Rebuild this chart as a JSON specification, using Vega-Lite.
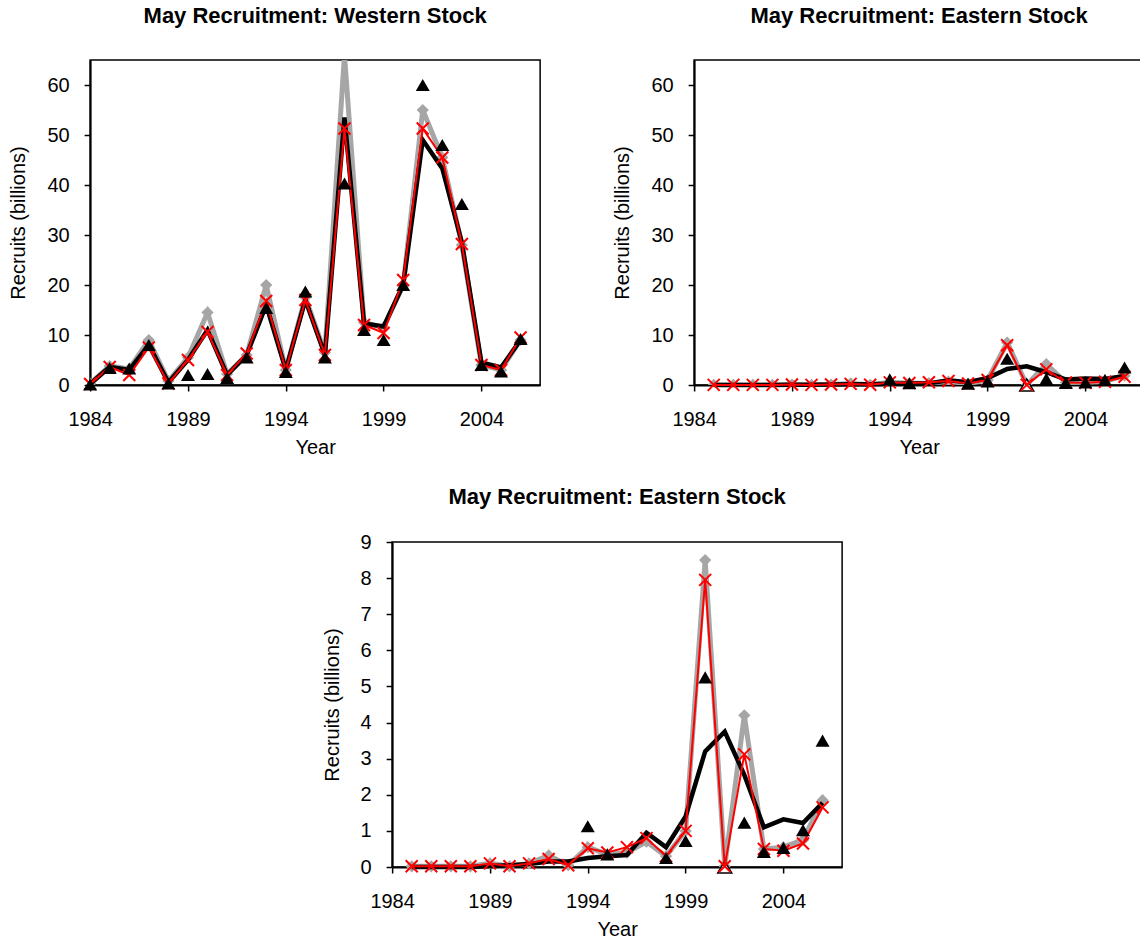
{
  "$schema": "https://vega.github.io/schema/vega-lite/v6.json",
  "padding": {"left": 8, "top": 4, "right": 0, "bottom": 0},
  "background": "white",
  "datasets": {
    "west": [
      {"year": 1984, "model_a": 0.3, "model_b": 0.2, "model_c": 0.2, "observed": 0.1},
      {"year": 1985, "model_a": 3.8, "model_b": 3.6, "model_c": 3.6, "observed": 3.4},
      {"year": 1986, "model_a": 3.2, "model_b": 3.0, "model_c": 2.0, "observed": 3.3},
      {"year": 1987, "model_a": 9.0, "model_b": 8.0, "model_c": 7.5, "observed": 8.0},
      {"year": 1988, "model_a": 0.8, "model_b": 0.5, "model_c": 0.3, "observed": 0.3},
      {"year": 1989, "model_a": 5.5, "model_b": 5.0, "model_c": 5.0, "observed": 2.0},
      {"year": 1990, "model_a": 14.5, "model_b": 11.0, "model_c": 10.6, "observed": 2.2},
      {"year": 1991, "model_a": 2.2, "model_b": 2.0, "model_c": 2.0, "observed": 1.4},
      {"year": 1992, "model_a": 6.0, "model_b": 6.0, "model_c": 6.3, "observed": 5.5},
      {"year": 1993, "model_a": 20.0, "model_b": 16.0, "model_c": 16.8, "observed": 15.4},
      {"year": 1994, "model_a": 3.0, "model_b": 3.0, "model_c": 3.0, "observed": 2.6},
      {"year": 1995, "model_a": 17.5, "model_b": 17.0, "model_c": 17.0, "observed": 18.7},
      {"year": 1996, "model_a": 6.5, "model_b": 6.0, "model_c": 6.0, "observed": 5.5},
      {"year": 1997, "model_a": 66.0, "model_b": 53.5, "model_c": 51.3, "observed": 40.3},
      {"year": 1998, "model_a": 12.5, "model_b": 12.3, "model_c": 12.0, "observed": 11.0},
      {"year": 1999, "model_a": 11.5, "model_b": 11.7, "model_c": 10.4, "observed": 9.0},
      {"year": 2000, "model_a": 20.0, "model_b": 20.0, "model_c": 21.0, "observed": 20.0},
      {"year": 2001, "model_a": 55.0, "model_b": 49.0, "model_c": 51.3, "observed": 60.0},
      {"year": 2002, "model_a": 45.5, "model_b": 43.3, "model_c": 45.5, "observed": 48.0},
      {"year": 2003, "model_a": 28.0, "model_b": 28.5, "model_c": 28.2, "observed": 36.2},
      {"year": 2004, "model_a": 4.0, "model_b": 4.5, "model_c": 4.0, "observed": 4.0},
      {"year": 2005, "model_a": 3.0, "model_b": 3.5, "model_c": 3.0, "observed": 2.7},
      {"year": 2006, "model_a": 9.0, "model_b": 9.0, "model_c": 9.5, "observed": 9.2}
    ],
    "east": [
      {"year": 1985, "model_a": 0.02, "model_b": 0.0, "model_c": 0.02, "observed": null},
      {"year": 1986, "model_a": 0.02, "model_b": 0.0, "model_c": 0.02, "observed": null},
      {"year": 1987, "model_a": 0.02, "model_b": 0.0, "model_c": 0.02, "observed": null},
      {"year": 1988, "model_a": 0.02, "model_b": 0.0, "model_c": 0.02, "observed": null},
      {"year": 1989, "model_a": 0.1, "model_b": 0.03, "model_c": 0.1, "observed": null},
      {"year": 1990, "model_a": 0.02, "model_b": 0.05, "model_c": 0.02, "observed": null},
      {"year": 1991, "model_a": 0.1, "model_b": 0.08, "model_c": 0.1, "observed": null},
      {"year": 1992, "model_a": 0.32, "model_b": 0.15, "model_c": 0.22, "observed": null},
      {"year": 1993, "model_a": 0.05, "model_b": 0.15, "model_c": 0.05, "observed": null},
      {"year": 1994, "model_a": 0.55, "model_b": 0.25, "model_c": 0.52, "observed": 1.13},
      {"year": 1995, "model_a": 0.35, "model_b": 0.3, "model_c": 0.4, "observed": 0.35},
      {"year": 1996, "model_a": 0.4, "model_b": 0.33, "model_c": 0.55, "observed": null},
      {"year": 1997, "model_a": 0.7, "model_b": 0.95, "model_c": 0.8, "observed": null},
      {"year": 1998, "model_a": 0.3, "model_b": 0.55, "model_c": 0.3, "observed": 0.25},
      {"year": 1999, "model_a": 1.0, "model_b": 1.4, "model_c": 1.0, "observed": 0.72},
      {"year": 2000, "model_a": 8.5, "model_b": 3.2, "model_c": 7.95, "observed": 5.25},
      {"year": 2001, "model_a": 0.02, "model_b": 3.75, "model_c": 0.02, "observed": 0},
      {"year": 2002, "model_a": 4.2, "model_b": 2.55, "model_c": 3.12, "observed": 1.23},
      {"year": 2003, "model_a": 0.5, "model_b": 1.1, "model_c": 0.5, "observed": 0.42},
      {"year": 2004, "model_a": 0.55, "model_b": 1.32, "model_c": 0.45, "observed": 0.53},
      {"year": 2005, "model_a": 0.75, "model_b": 1.22, "model_c": 0.65, "observed": 1.02},
      {"year": 2006, "model_a": 1.85, "model_b": 1.78, "model_c": 1.65, "observed": 3.5}
    ]
  },
  "spacing": 27,
  "center": true,
  "vconcat": [
    {
      "spacing": 71,
      "hconcat": [
        {
          "width": 450, "height": 325,
          "title": {"text": "May Recruitment: Western Stock"},
          "data": {"name": "west"},
          "transform": [{"fold": ["model_a", "model_b", "model_c", "observed"], "as": ["series", "value"]}],
          "encoding": {
            "x": {"field": "year", "type": "quantitative", "title": "Year", "scale": {"domain": [1984, 2007], "nice": false, "zero": false}, "axis": {"values": [1984, 1989, 1994, 1999, 2004], "format": "d"}},
            "y": {"field": "value", "type": "quantitative", "title": "Recruits (billions)", "scale": {"domain": [0, 65], "nice": false}, "axis": {"values": [0, 10, 20, 30, 40, 50, 60]}}
          },
          "layer": [
            {"transform": [{"filter": "datum.series === 'model_a'"}], "mark": {"type": "line", "color": "#a6a6a6", "strokeWidth": 5, "clip": true}},
            {"transform": [{"filter": "datum.series === 'model_a'"}], "mark": {"type": "point", "shape": "diamond", "filled": true, "color": "#a6a6a6", "size": 150, "opacity": 1, "clip": true}},
            {"transform": [{"filter": "datum.series === 'model_b'"}], "mark": {"type": "line", "color": "black", "strokeWidth": 4.5}},
            {"transform": [{"filter": "datum.series === 'observed' && datum.value === 0"}], "mark": {"type": "point", "shape": "triangle-up", "filled": true, "fill": "white", "stroke": "black", "strokeWidth": 1.5, "size": 196, "opacity": 1}},
            {"transform": [{"filter": "datum.series === 'model_c'"}], "mark": {"type": "line", "color": "#ff0000", "strokeWidth": 2}},
            {"transform": [{"filter": "datum.series === 'model_c'"}], "mark": {"type": "point", "shape": "M-1,-1L1,1M-1,1L1,-1", "filled": false, "color": "#ff0000", "strokeWidth": 2, "size": 144, "opacity": 1}},
            {"transform": [{"filter": "datum.series === 'observed' && isValid(datum.value) && datum.value > 0"}], "mark": {"type": "point", "shape": "triangle-up", "filled": true, "color": "black", "size": 196, "opacity": 1}}
          ]
        },
        {
          "width": 450, "height": 325,
          "title": {"text": "May Recruitment: Eastern Stock"},
          "data": {"name": "east"},
          "transform": [{"fold": ["model_a", "model_b", "model_c", "observed"], "as": ["series", "value"]}],
          "encoding": {
            "x": {"field": "year", "type": "quantitative", "title": "Year", "scale": {"domain": [1984, 2007], "nice": false, "zero": false}, "axis": {"values": [1984, 1989, 1994, 1999, 2004], "format": "d"}},
            "y": {"field": "value", "type": "quantitative", "title": "Recruits (billions)", "scale": {"domain": [0, 65], "nice": false}, "axis": {"values": [0, 10, 20, 30, 40, 50, 60]}}
          },
          "layer": [
            {"transform": [{"filter": "datum.series === 'model_a'"}], "mark": {"type": "line", "color": "#a6a6a6", "strokeWidth": 5, "clip": true}},
            {"transform": [{"filter": "datum.series === 'model_a'"}], "mark": {"type": "point", "shape": "diamond", "filled": true, "color": "#a6a6a6", "size": 150, "opacity": 1, "clip": true}},
            {"transform": [{"filter": "datum.series === 'model_b'"}], "mark": {"type": "line", "color": "black", "strokeWidth": 4.5}},
            {"transform": [{"filter": "datum.series === 'observed' && datum.value === 0"}], "mark": {"type": "point", "shape": "triangle-up", "filled": true, "fill": "white", "stroke": "black", "strokeWidth": 1.5, "size": 196, "opacity": 1}},
            {"transform": [{"filter": "datum.series === 'model_c'"}], "mark": {"type": "line", "color": "#ff0000", "strokeWidth": 2}},
            {"transform": [{"filter": "datum.series === 'model_c'"}], "mark": {"type": "point", "shape": "M-1,-1L1,1M-1,1L1,-1", "filled": false, "color": "#ff0000", "strokeWidth": 2, "size": 144, "opacity": 1}},
            {"transform": [{"filter": "datum.series === 'observed' && isValid(datum.value) && datum.value > 0"}], "mark": {"type": "point", "shape": "triangle-up", "filled": true, "color": "black", "size": 196, "opacity": 1}}
          ]
        }
      ]
    },
    {
      "width": 450, "height": 325,
      "title": {"text": "May Recruitment: Eastern Stock", "offset": 23},
      "data": {"name": "east"},
      "transform": [{"fold": ["model_a", "model_b", "model_c", "observed"], "as": ["series", "value"]}],
      "encoding": {
        "x": {"field": "year", "type": "quantitative", "title": "Year", "scale": {"domain": [1984, 2007], "nice": false, "zero": false}, "axis": {"values": [1984, 1989, 1994, 1999, 2004], "format": "d"}},
        "y": {"field": "value", "type": "quantitative", "title": "Recruits (billions)", "scale": {"domain": [0, 9], "nice": false}, "axis": {"values": [0, 1, 2, 3, 4, 5, 6, 7, 8, 9], "tickCount": 10}}
      },
      "layer": [
        {"transform": [{"filter": "datum.series === 'model_a'"}], "mark": {"type": "line", "color": "#a6a6a6", "strokeWidth": 5, "clip": true}},
        {"transform": [{"filter": "datum.series === 'model_a'"}], "mark": {"type": "point", "shape": "diamond", "filled": true, "color": "#a6a6a6", "size": 150, "opacity": 1}},
        {"transform": [{"filter": "datum.series === 'model_b'"}], "mark": {"type": "line", "color": "black", "strokeWidth": 4.5}},
        {"transform": [{"filter": "datum.series === 'observed' && datum.value === 0"}], "mark": {"type": "point", "shape": "triangle-up", "filled": true, "fill": "white", "stroke": "black", "strokeWidth": 1.5, "size": 196, "opacity": 1}},
        {"transform": [{"filter": "datum.series === 'model_c'"}], "mark": {"type": "line", "color": "#ff0000", "strokeWidth": 2}},
        {"transform": [{"filter": "datum.series === 'model_c'"}], "mark": {"type": "point", "shape": "M-1,-1L1,1M-1,1L1,-1", "filled": false, "color": "#ff0000", "strokeWidth": 2, "size": 144, "opacity": 1}},
        {"transform": [{"filter": "datum.series === 'observed' && isValid(datum.value) && datum.value > 0"}], "mark": {"type": "point", "shape": "triangle-up", "filled": true, "color": "black", "size": 196, "opacity": 1}}
      ]
    }
  ],
  "config": {
    "font": "Liberation Sans",
    "view": {"stroke": "black", "strokeWidth": 1.5},
    "axis": {
      "labelFont": "Liberation Sans", "labelFontSize": 20, "labelColor": "black", "labelOverlap": false,
      "titleFont": "Liberation Sans", "titleFontSize": 20, "titleFontWeight": "normal", "titleColor": "black",
      "domainColor": "black", "domainWidth": 2, "tickColor": "black", "tickWidth": 1.5, "tickSize": 6, "grid": false
    },
    "axisX": {"labelPadding": 18, "titlePadding": 8, "labelFlush": false},
    "axisY": {"labelPadding": 15, "titlePadding": 18},
    "title": {"font": "Liberation Sans", "fontSize": 22, "fontWeight": "bold", "color": "black", "offset": 32, "anchor": "middle", "frame": "group"}
  }
}
